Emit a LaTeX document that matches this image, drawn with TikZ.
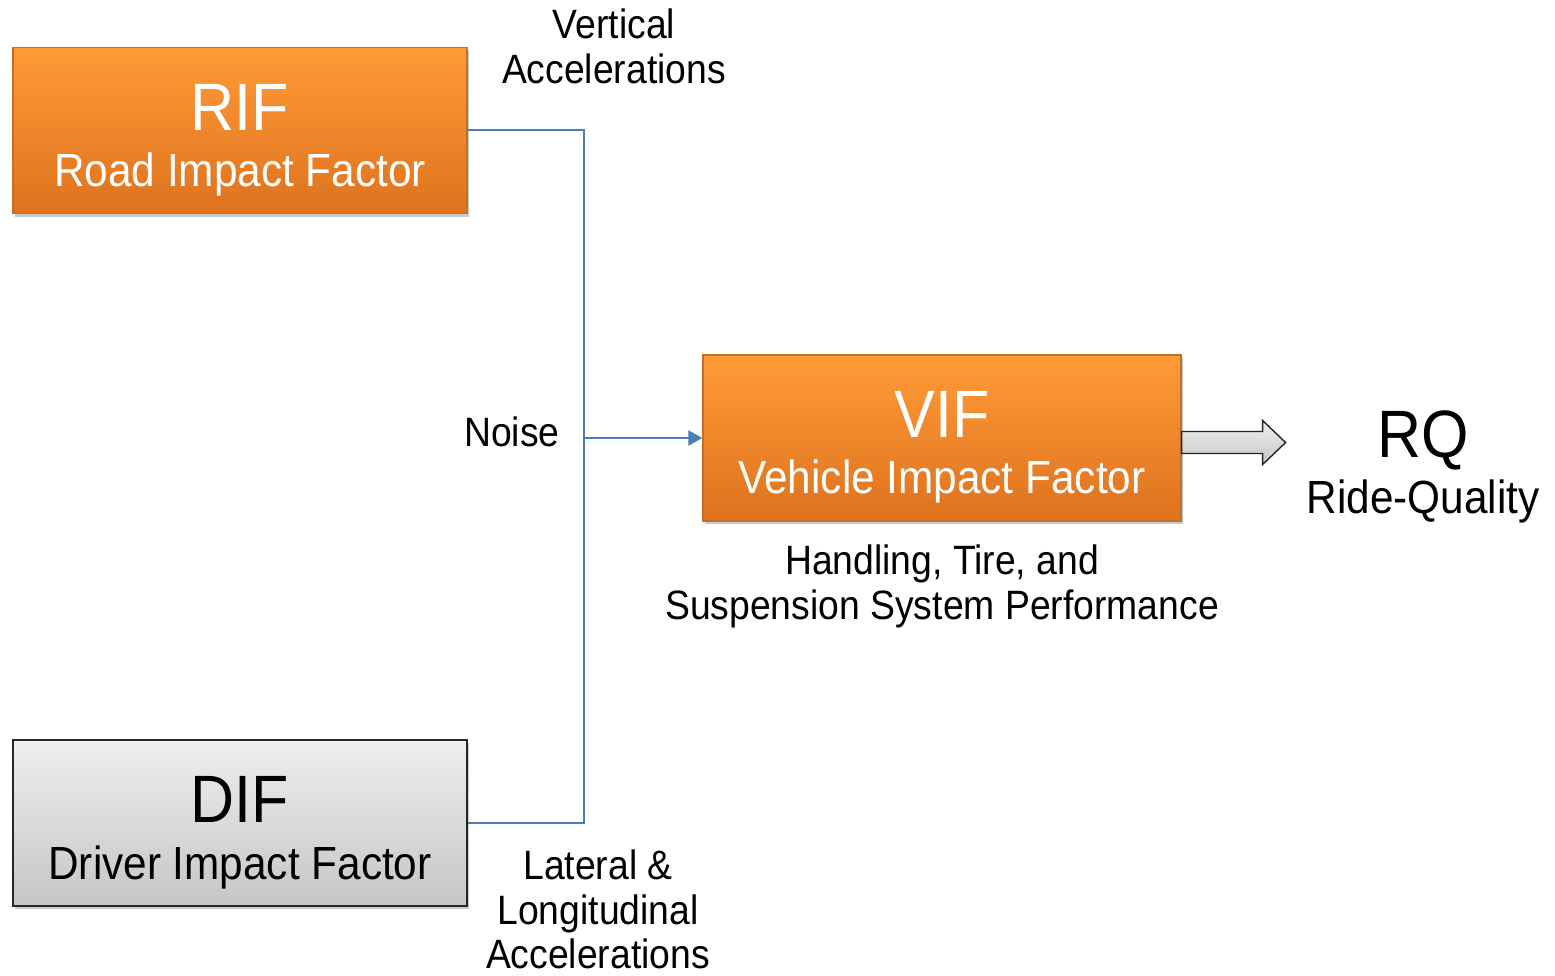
\documentclass[tikz,border=0pt]{standalone}
\usepackage{fontspec}
\setmainfont{Liberation Sans}[FakeStretch=0.91]
\usetikzlibrary{shadows,calc,arrows.meta}
\definecolor{orTop}{RGB}{255,155,55}
\definecolor{orBot}{RGB}{222,114,30}
\definecolor{orLine}{RGB}{196,110,40}
\definecolor{gyTop}{RGB}{238,238,238}
\definecolor{gyBot}{RGB}{198,198,198}
\definecolor{conn}{RGB}{74,126,187}
\tikzset{
  x=1pt,y=-1pt,
  obox/.style={draw=orLine,line width=1.2pt,top color=orTop,bottom color=orBot,
    minimum width=454pt,minimum height=166pt,inner sep=0pt,
    drop shadow={shadow xshift=2pt,shadow yshift=-3pt,opacity=0.35,fill=black!60}},
  gbox/.style={draw=black!85,line width=1.2pt,top color=gyTop,bottom color=gyBot,
    minimum width=454pt,minimum height=166pt,inner sep=0pt,
    drop shadow={shadow xshift=2pt,shadow yshift=-3pt,opacity=0.35,fill=black!60}},
  bigt/.style={anchor=base,inner sep=0pt,font=\fontsize{67}{70}\selectfont},
  subt/.style={anchor=base,inner sep=0pt,font=\fontsize{46.5}{50}\selectfont},
  lab/.style={anchor=base,inner sep=0pt,font=\fontsize{41}{45}\selectfont},
  wire/.style={draw=conn,line width=2pt},
}
\begin{document}
\begin{tikzpicture}
\useasboundingbox (0,0) rectangle (1555,975);
% boxes
\node[obox] (rif) at (240,130.5) {};
\node[obox,minimum width=478pt] (vif) at (942,438) {};
\node[gbox] (dif) at (240,823) {};
% box texts
\node[bigt,white] (riftitle) at (240,130) {RIF};
\node[subt,white] (rifsub) at (240,186) {Road Impact Factor};
\node[bigt,white] (viftitle) at (942,437) {VIF};
\node[subt,white] (vifsub) at (942,493) {Vehicle Impact Factor};
\node[bigt,black] (diftitle) at (240,822) {DIF};
\node[subt,black] (difsub) at (240,879) {Driver Impact Factor};
% connectors
\coordinate (jt) at (584,130);
\coordinate (jb) at (584,823);
\coordinate (jm) at (584,438);
\draw[wire] (rif.east |- jt) -- (jt) -- (jb) -- (dif.east |- jb);
\draw[wire,-{Triangle[length=14pt,width=15pt]}] (jm) -- (vif.west |- jm);
% block arrow
\coordinate (ab) at ($(vif.east)+(0,4.5)$);
\draw[black!85,line width=1.4pt,top color=gyTop,bottom color=gyBot]
  ($(ab)+(0,-11)$) -- ++(81,0) -- ++(0,-11) -- ++(23,22) -- ++(-23,22) -- ++(0,-11) -- ($(ab)+(0,11)$) -- cycle;
% RQ
\node[bigt] (rq) at (1423,457) {RQ};
\node[subt] (rqsub) at (1423,513) {Ride-Quality};
% labels
\node[lab] (v1) at (614,38) {Vertical};
\node[lab] (v2) at (614,83) {Accelerations};
\node[lab] (noise) at (512,446) {Noise};
\node[lab] (h1) at (942,574) {Handling, Tire, and};
\node[lab] (h2) at (942,619) {Suspension System Performance};
\node[lab] (l1) at (598,879) {Lateral \&};
\node[lab] (l2) at (598,924) {Longitudinal};
\node[lab] (l3) at (598,968) {Accelerations};
\end{tikzpicture}
\end{document}
